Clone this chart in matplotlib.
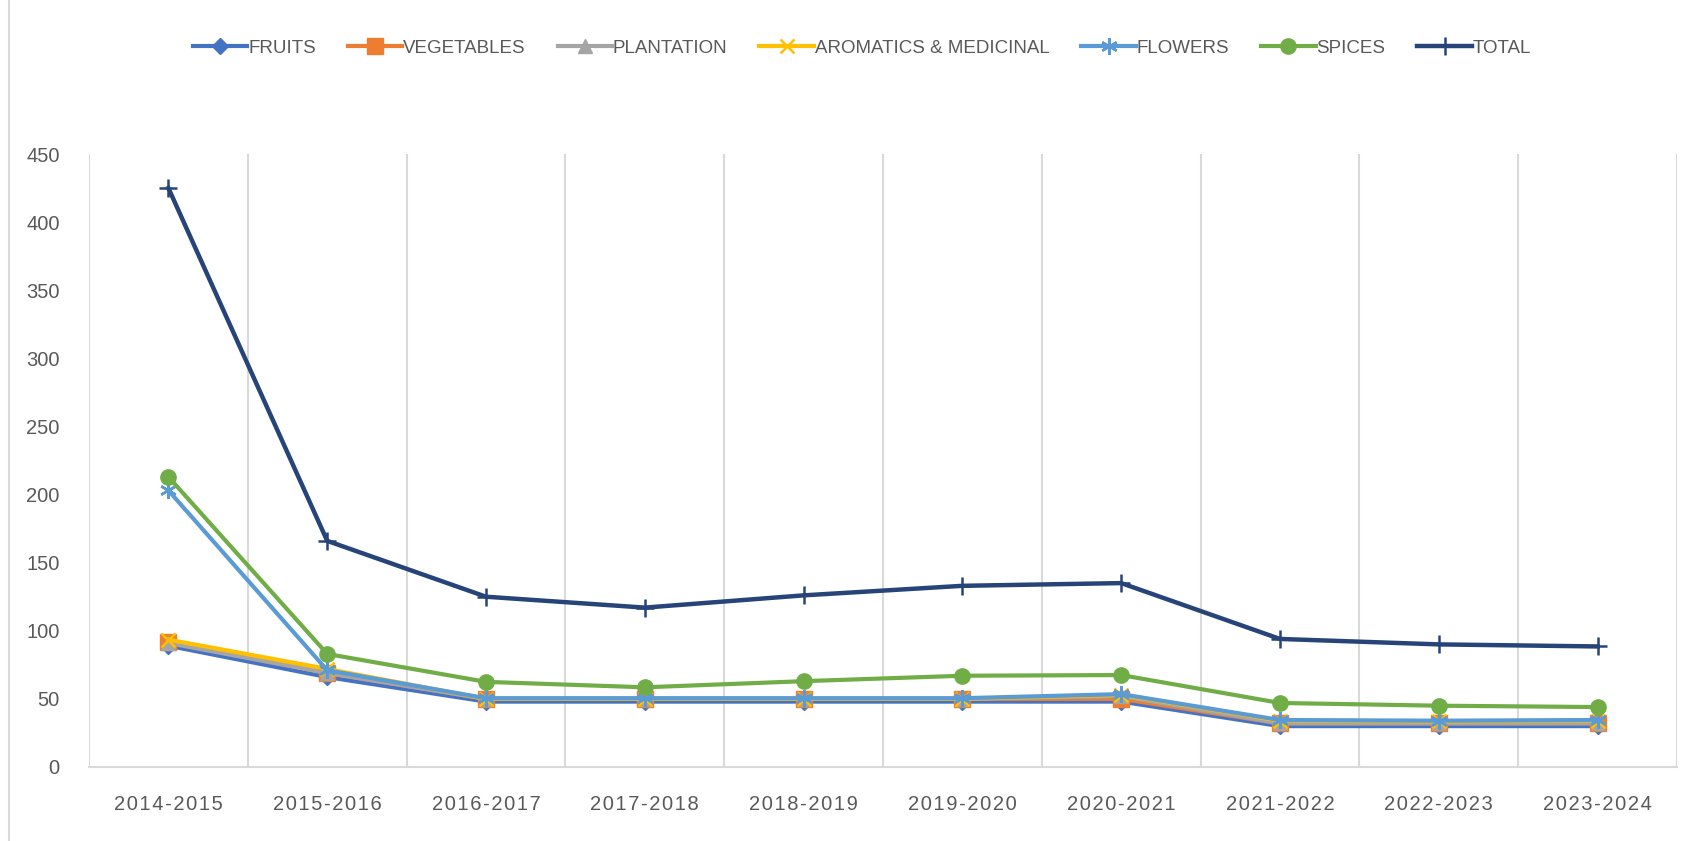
import matplotlib

matplotlib.use("Agg")
import matplotlib.pyplot as plt
from matplotlib.lines import Line2D

# data
YEARS = ["2014-2015", "2015-2016", "2016-2017", "2017-2018", "2018-2019",
         "2019-2020", "2020-2021", "2021-2022", "2022-2023", "2023-2024"]
FRUITS = [89, 66, 48, 48, 48, 48, 48, 30, 30, 30]
VEGETABLES = [92, 69, 50, 50, 50, 50, 50, 32, 32, 32]
PLANTATION = [91, 69, 50, 50, 50, 50, 52, 32, 32, 32]
AROMATICS = [93.5, 72, 50, 50, 50, 50, 53, 34, 33.5, 34]
FLOWERS = [203, 71, 50.5, 50.5, 50.5, 50.5, 53.5, 34.5, 34, 34.5]
SPICES = [213, 83, 62.5, 58.5, 63, 67, 67.5, 47, 45, 44]
TOTAL = [425, 166, 125, 117, 126, 133, 135, 94, 90, 88.5]
Y_TICKS = [0, 50, 100, 150, 200, 250, 300, 350, 400, 450]

SERIES = [
    ("FRUITS", FRUITS, "#4472C4", "D", 8, 3.0),
    ("VEGETABLES", VEGETABLES, "#ED7D31", "s", 11, 3.0),
    ("PLANTATION", PLANTATION, "#A5A5A5", "^", 10, 3.0),
    ("AROMATICS & MEDICINAL", AROMATICS, "#FFC000", "x", 10, 3.0),
    ("FLOWERS", FLOWERS, "#5B9BD5", (6, 2, 0), 12, 3.0),
    ("SPICES", SPICES, "#70AD47", "o", 11, 3.0),
    ("TOTAL", TOTAL, "#264478", "+", 13, 3.2),
]

TEXT_GREY = "#595959"
GRID_GREY = "#D9D9D9"
FONT = ["Liberation Sans", "DejaVu Sans"]

plt.rcParams["font.family"] = FONT

fig = plt.figure(figsize=(16.92, 8.41), dpi=100)
ax = fig.add_axes([89 / 1692, 74 / 841, (1677 - 89) / 1692, (767 - 154) / 841])

x = list(range(len(YEARS)))
for name, values, color, marker, msize, lw in SERIES:
    mew = 1.8 if marker in ("x", "+") or isinstance(marker, tuple) else 1.0
    ax.plot(x, values, color=color, lw=lw, marker=marker, markersize=msize,
            markeredgewidth=mew, markerfacecolor=color, markeredgecolor=color,
            label=name, solid_joinstyle="round", zorder=3)

ax.set_xlim(-0.5, len(YEARS) - 0.5)
ax.set_ylim(0, 450)
ax.set_yticks(Y_TICKS)
ax.set_yticklabels([str(v) for v in Y_TICKS], fontsize=14.5, color=TEXT_GREY)
ax.set_xticks(x)
spaced = ["\u200a".join(list(y)) for y in YEARS]
ax.set_xticklabels(spaced, fontsize=14.5, color=TEXT_GREY)
ax.tick_params(axis="both", length=0)
ax.tick_params(axis="y", pad=21)
ax.tick_params(axis="x", pad=20)

for b in range(len(YEARS) + 1):
    ax.axvline(b - 0.5, color=GRID_GREY, lw=1.5, zorder=1)

for side in ("top", "right", "left"):
    ax.spines[side].set_visible(False)
ax.spines["bottom"].set_color(GRID_GREY)
ax.spines["bottom"].set_linewidth(1.5)

fig.legend(loc="center", bbox_to_anchor=(862 / 1692, 1 - 48 / 841), ncol=7,
           frameon=False, fontsize=13.5, labelcolor=TEXT_GREY,
           handlelength=2.9, handletextpad=0.05, columnspacing=1.7)

fig.add_artist(Line2D([8.5 / 1692, 8.5 / 1692], [0, 1], color=GRID_GREY, lw=1.5,
                      transform=fig.transFigure))

fig.savefig("out.png", dpi=100, facecolor="white")
